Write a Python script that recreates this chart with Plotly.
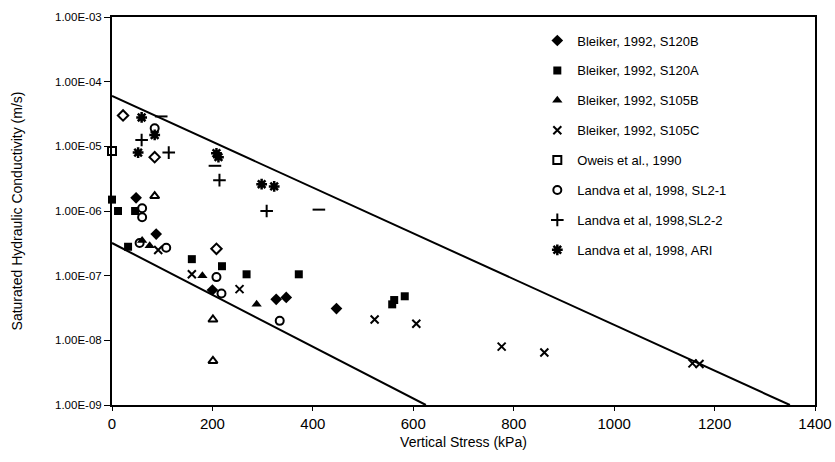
import plotly.graph_objects as go

# ---------------- data ----------------
s120b_x = [48, 88, 200, 327, 347, 447]
s120b_y = [1.6e-6, 4.4e-7, 6.0e-8, 4.3e-8, 4.6e-8, 3.1e-8]

s120a_x = [0, 12, 46, 32, 159, 219, 268, 372, 558, 562, 583]
s120a_y = [1.5e-6, 1.0e-6, 1.0e-6, 2.8e-7, 1.8e-7, 1.4e-7, 1.05e-7, 1.05e-7, 3.6e-8, 4.2e-8, 4.8e-8]

s105b_x = [60, 75, 180, 288]
s105b_y = [3.5e-7, 2.9e-7, 1.0e-7, 3.6e-8]

s105c_x = [92, 159, 254, 523, 606, 776, 861, 1156, 1170]
s105c_y = [2.5e-7, 1.05e-7, 6.2e-8, 2.1e-8, 1.8e-8, 8.0e-9, 6.5e-9, 4.4e-9, 4.3e-9]

oweis_x = [0]
oweis_y = [8.5e-6]

sl21_x = [85, 60, 60, 55, 108, 208, 218, 334]
sl21_y = [1.9e-5, 1.1e-6, 8.0e-7, 3.2e-7, 2.7e-7, 9.5e-8, 5.3e-8, 2.0e-8]

sl22_x = [59, 113, 214, 308]
sl22_y = [1.25e-5, 8.0e-6, 3.0e-6, 1.0e-6]

ari_x = [59, 85, 52, 208, 212, 298, 323]
ari_y = [2.8e-5, 1.5e-5, 8.0e-6, 7.8e-6, 6.8e-6, 2.6e-6, 2.4e-6]

# extra series shown without legend entries
open_diamond_x = [22, 85, 208]
open_diamond_y = [3.0e-5, 6.8e-6, 2.6e-7]
open_triangle_x = [85, 201, 201]
open_triangle_y = [1.7e-6, 2.1e-8, 4.8e-9]
dash_x = [98, 205, 412]
dash_y = [2.9e-5, 5.0e-6, 1.05e-6]

# bounding lines
upper_line_x = [0, 1350]
upper_line_y = [6.0e-5, 1.0e-9]
lower_line_x = [0, 625]
lower_line_y = [3.2e-7, 1.0e-9]

y_tickvals = [1e-9, 1e-8, 1e-7, 1e-6, 1e-5, 1e-4, 1e-3]
y_ticktext = ["1.00E-09", "1.00E-08", "1.00E-07", "1.00E-06", "1.00E-05", "1.00E-04", "1.00E-03"]
x_tickvals = [0, 200, 400, 600, 800, 1000, 1200, 1400]

FONT = "Liberation Sans, Arial, sans-serif"
fig = go.Figure()

def add(name, x, y, symbol, size=8, lw=0, show=True, group=None):
    fig.add_trace(go.Scatter(
        x=x, y=y, mode="markers", name=name, showlegend=show,
        legendgroup=group or name, cliponaxis=False,
        marker=dict(symbol=symbol, size=size, color="black",
                    line=dict(color="black", width=lw)),
    ))

add("Bleiker, 1992, S120B", s120b_x, s120b_y, "diamond", 9)
add("Bleiker, 1992, S120A", s120a_x, s120a_y, "square", 8)
add("Bleiker, 1992, S105B", s105b_x, s105b_y, "triangle-up", 9)
add("Bleiker, 1992, S105C", s105c_x, s105c_y, "x-thin-open", 8, 2)
add("Oweis et al., 1990", oweis_x, oweis_y, "square-open", 8, 2)
add("Landva et al, 1998, SL2-1", sl21_x, sl21_y, "circle-open", 8, 2)
add("Landva et al, 1998,SL2-2", sl22_x, sl22_y, "cross-thin-open", 9, 2)
add("Landva et al, 1998, ARI", ari_x, ari_y, "asterisk-open", 9, 2.5)

add("open diamond", open_diamond_x, open_diamond_y, "diamond-open", 8, 2, show=False)
add("open triangle", open_triangle_x, open_triangle_y, "triangle-up-open", 8, 2, show=False)
add("dash", dash_x, dash_y, "line-ew-open", 9, 2, show=False)

for lx, ly in [(upper_line_x, upper_line_y), (lower_line_x, lower_line_y)]:
    fig.add_trace(go.Scatter(x=lx, y=ly, mode="lines", showlegend=False,
                             line=dict(color="black", width=2), hoverinfo="skip"))

fig.update_layout(
    width=835, height=462,
    margin=dict(l=112, r=20, t=17, b=57, autoexpand=False),
    paper_bgcolor="white", plot_bgcolor="white",
    font=dict(family=FONT, size=12, color="black"),
    showlegend=True,
    legend=dict(x=0.605, y=0.978, xanchor="left", yanchor="top",
                bgcolor="rgba(0,0,0,0)", font=dict(size=13, color="black"),
                tracegroupgap=10, traceorder="grouped", itemwidth=30),
    xaxis=dict(range=[0, 1400], tickvals=x_tickvals, showgrid=False, zeroline=False,
               showline=True, linecolor="black", linewidth=2, mirror=True,
               ticks="outside", ticklen=4, tickcolor="black", automargin=False,
               tickfont=dict(size=15, color="black"),
               title=dict(text="Vertical Stress (kPa)", font=dict(size=14), standoff=6)),
    yaxis=dict(type="log", range=[-9, -3], tickvals=y_tickvals, ticktext=y_ticktext,
               showgrid=False, zeroline=False, showline=True, linecolor="black",
               linewidth=2, mirror=True, ticks="outside", ticklen=6, tickcolor="black",
               automargin=False, tickfont=dict(size=11.5, color="black"),
               title=dict(text="Saturated Hydraulic Conductivity (m/s)",
                          font=dict(size=14), standoff=29)),
)

fig.write_html("out.html", post_script="document.body.style.margin='0';",
               config={"displayModeBar": False})
